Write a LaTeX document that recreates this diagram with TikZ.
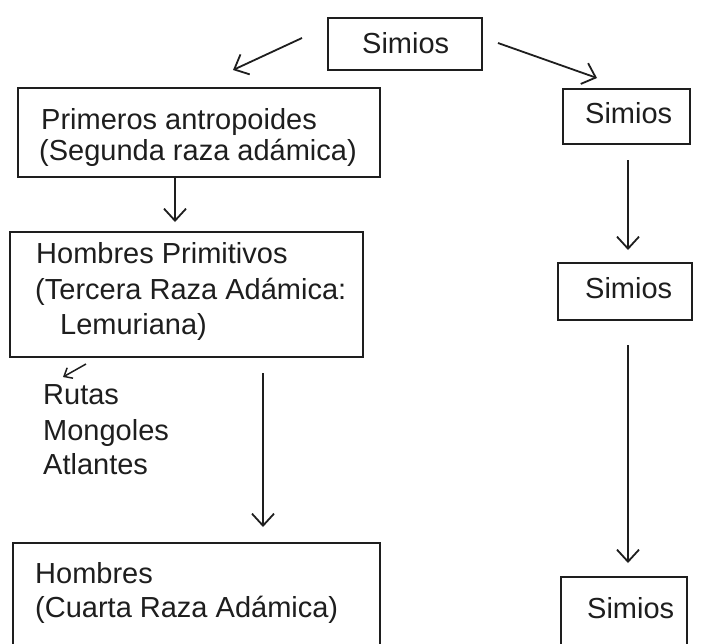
\documentclass[tikz,border=0pt]{standalone}
\usepackage{fontspec}
\setmainfont{Liberation Sans}
\usetikzlibrary{arrows.meta}
\definecolor{ink}{HTML}{1E1E1E}
\tikzset{
  box/.style={draw=ink, line width=2.2pt, inner sep=0pt, rectangle},
  txt/.style={inner sep=0pt, anchor=base west, text=ink, font=\fontsize{29}{34}\selectfont},
  arr/.style={draw=ink, line width=1.8pt, -{Straight Barb[length=12pt, width=22pt, line width=1.8pt]}},
  smallarr/.style={draw=ink, line width=1.5pt, -{Straight Barb[length=7pt, width=12pt, line width=1.5pt]}}
}
\begin{document}
\begin{tikzpicture}[x=1pt, y=-1pt]
\useasboundingbox[fill=white] (0,0) rectangle (720,643);
\clip (0,0) rectangle (720,643);

% boxes
\node[box, minimum width=154pt, minimum height=52pt] (top) at (405,44) {};
\node[box, minimum width=362pt, minimum height=89pt] (prim) at (199,132.5) {};
\node[box, minimum width=127pt, minimum height=55pt] (s1) at (626.5,116.5) {};
\node[box, minimum width=353pt, minimum height=125pt] (hp) at (186.5,294.5) {};
\node[box, minimum width=134pt, minimum height=57pt] (s2) at (625,291.5) {};
\node[box, minimum width=367pt, minimum height=130pt] (hom) at (196.5,608) {};
\node[box, minimum width=126pt, minimum height=90pt] (s3) at (624,622) {};

% texts
\node[txt] (ttop) at (362,53) {Simios};
\node[txt] (tp1) at (41,129) {Primeros antropoides};
\node[txt] (tp2) at (39,160) {(Segunda raza adámica)};
\node[txt] (ts1) at (585,123) {Simios};
\node[txt] (th1) at (36,263) {Hombres Primitivos};
\node[txt] (th2) at (35,299) {(Tercera Raza Adámica:};
\node[txt] (th3) at (60,334) {Lemuriana)};
\node[txt] (ts2) at (585,298) {Simios};
\node[txt] (tr1) at (43,404) {Rutas};
\node[txt] (tr2) at (43,440) {Mongoles};
\node[txt] (tr3) at (43,474) {Atlantes};
\node[txt] (tm1) at (35,583) {Hombres};
\node[txt] (tm2) at (35,617) {(Cuarta Raza Adámica)};
\node[txt] (ts3) at (587,618) {Simios};

% connector end points
\coordinate (a1s) at (302,38);  \coordinate (a1e) at (233,70);
\coordinate (a6s) at (498,43);  \coordinate (a6e) at (597,78);
\coordinate (a3s) at (628,160); \coordinate (a3e) at (628,250);
\coordinate (a4s) at (263,373); \coordinate (a4e) at (263,527);
\coordinate (a5s) at (628,345); \coordinate (a5e) at (628,563);
\coordinate (sms) at (86,364);  \coordinate (sme) at (63,377);
\coordinate (a2e) at (175,222);

% connectors
\draw[arr] (a1s) -- (a1e);
\draw[arr] (a6s) -- (a6e);
\draw[arr] (prim.south -| a2e) -- (a2e);
\draw[arr] (a3s) -- (a3e);
\draw[arr] (a4s) -- (a4e);
\draw[arr] (a5s) -- (a5e);
\draw[smallarr] (sms) -- (sme);
\end{tikzpicture}
\end{document}
